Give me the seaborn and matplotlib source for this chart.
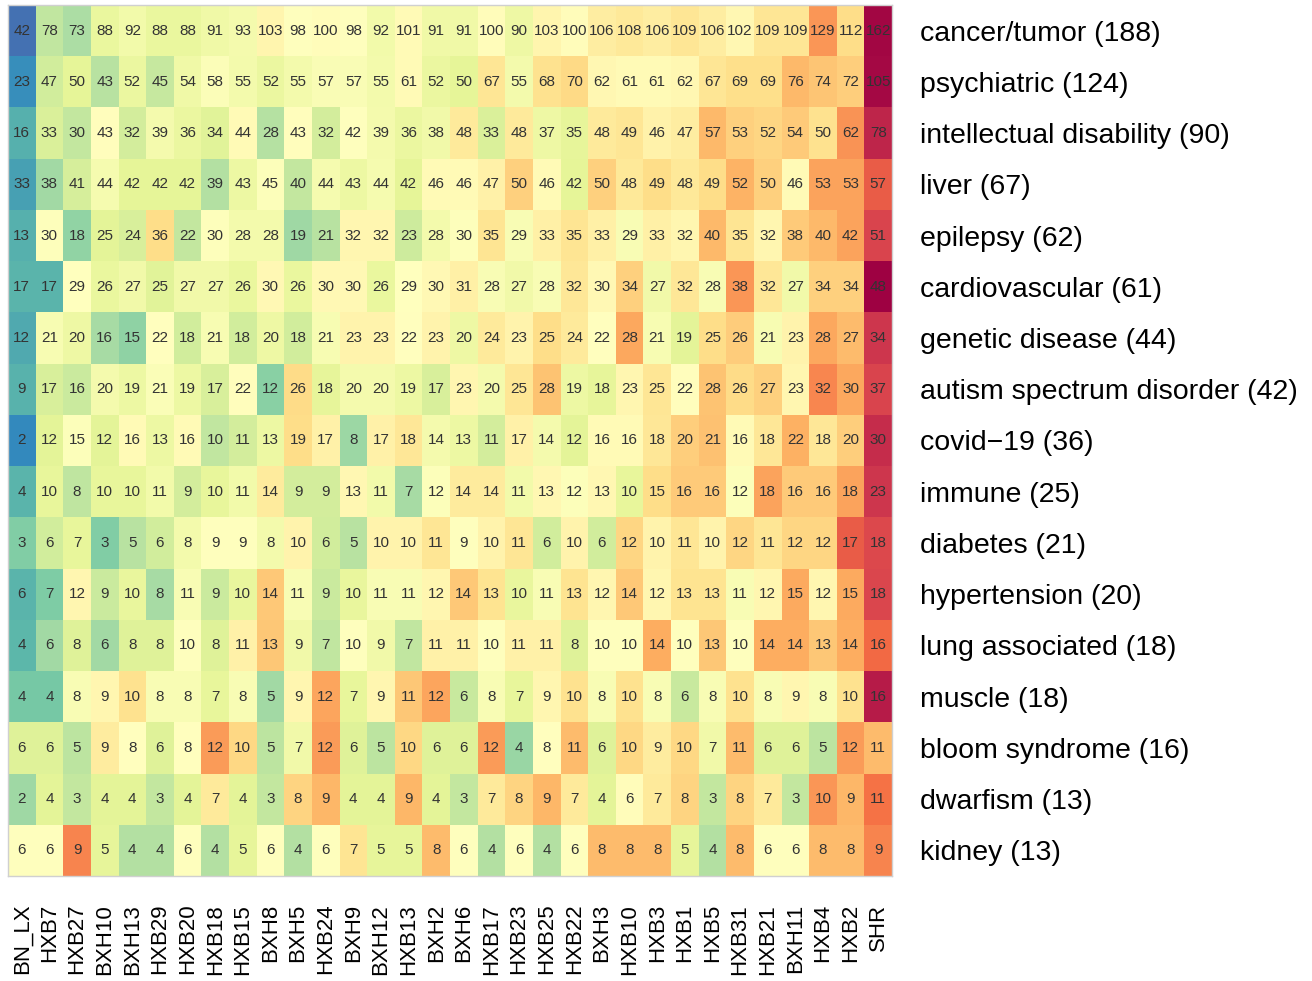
import numpy as np
import pandas as pd
import matplotlib
matplotlib.use("Agg")
import matplotlib.pyplot as plt
import seaborn as sns

# strains (columns) and disease categories (rows)
strains = ["BN_LX", "HXB7", "HXB27", "BXH10", "BXH13", "HXB29", "HXB20", "HXB18",
           "HXB15", "BXH8", "BXH5", "HXB24", "BXH9", "BXH12", "HXB13", "BXH2",
           "BXH6", "HXB17", "HXB23", "HXB25", "HXB22", "BXH3", "HXB10", "HXB3",
           "HXB1", "HXB5", "HXB31", "HXB21", "BXH11", "HXB4", "HXB2", "SHR"]

categories = ["cancer/tumor (188)", "psychiatric (124)", "intellectual disability (90)",
              "liver (67)", "epilepsy (62)", "cardiovascular (61)", "genetic disease (44)",
              "autism spectrum disorder (42)", "covid\u221219 (36)", "immune (25)",
              "diabetes (21)", "hypertension (20)", "lung associated (18)", "muscle (18)",
              "bloom syndrome (16)", "dwarfism (13)", "kidney (13)"]

cancer = [42, 78, 73, 88, 92, 88, 88, 91, 93, 103, 98, 100, 98, 92, 101, 91,
          91, 100, 90, 103, 100, 106, 108, 106, 109, 106, 102, 109, 109, 129, 112, 162]
psychiatric = [23, 47, 50, 43, 52, 45, 54, 58, 55, 52, 55, 57, 57, 55, 61, 52,
               50, 67, 55, 68, 70, 62, 61, 61, 62, 67, 69, 69, 76, 74, 72, 105]
intellectual = [16, 33, 30, 43, 32, 39, 36, 34, 44, 28, 43, 32, 42, 39, 36, 38,
                48, 33, 48, 37, 35, 48, 49, 46, 47, 57, 53, 52, 54, 50, 62, 78]
liver = [33, 38, 41, 44, 42, 42, 42, 39, 43, 45, 40, 44, 43, 44, 42, 46,
         46, 47, 50, 46, 42, 50, 48, 49, 48, 49, 52, 50, 46, 53, 53, 57]
epilepsy = [13, 30, 18, 25, 24, 36, 22, 30, 28, 28, 19, 21, 32, 32, 23, 28,
            30, 35, 29, 33, 35, 33, 29, 33, 32, 40, 35, 32, 38, 40, 42, 51]
cardiovascular = [17, 17, 29, 26, 27, 25, 27, 27, 26, 30, 26, 30, 30, 26, 29, 30,
                  31, 28, 27, 28, 32, 30, 34, 27, 32, 28, 38, 32, 27, 34, 34, 48]
genetic = [12, 21, 20, 16, 15, 22, 18, 21, 18, 20, 18, 21, 23, 23, 22, 23,
           20, 24, 23, 25, 24, 22, 28, 21, 19, 25, 26, 21, 23, 28, 27, 34]
autism = [9, 17, 16, 20, 19, 21, 19, 17, 22, 12, 26, 18, 20, 20, 19, 17,
          23, 20, 25, 28, 19, 18, 23, 25, 22, 28, 26, 27, 23, 32, 30, 37]
covid = [2, 12, 15, 12, 16, 13, 16, 10, 11, 13, 19, 17, 8, 17, 18, 14,
         13, 11, 17, 14, 12, 16, 16, 18, 20, 21, 16, 18, 22, 18, 20, 30]
immune = [4, 10, 8, 10, 10, 11, 9, 10, 11, 14, 9, 9, 13, 11, 7, 12,
          14, 14, 11, 13, 12, 13, 10, 15, 16, 16, 12, 18, 16, 16, 18, 23]
diabetes = [3, 6, 7, 3, 5, 6, 8, 9, 9, 8, 10, 6, 5, 10, 10, 11,
            9, 10, 11, 6, 10, 6, 12, 10, 11, 10, 12, 11, 12, 12, 17, 18]
hypertension = [6, 7, 12, 9, 10, 8, 11, 9, 10, 14, 11, 9, 10, 11, 11, 12,
                14, 13, 10, 11, 13, 12, 14, 12, 13, 13, 11, 12, 15, 12, 15, 18]
lung = [4, 6, 8, 6, 8, 8, 10, 8, 11, 13, 9, 7, 10, 9, 7, 11,
        11, 10, 11, 11, 8, 10, 10, 14, 10, 13, 10, 14, 14, 13, 14, 16]
muscle = [4, 4, 8, 9, 10, 8, 8, 7, 8, 5, 9, 12, 7, 9, 11, 12,
          6, 8, 7, 9, 10, 8, 10, 8, 6, 8, 10, 8, 9, 8, 10, 16]
bloom = [6, 6, 5, 9, 8, 6, 8, 12, 10, 5, 7, 12, 6, 5, 10, 6,
         6, 12, 4, 8, 11, 6, 10, 9, 10, 7, 11, 6, 6, 5, 12, 11]
dwarfism = [2, 4, 3, 4, 4, 3, 4, 7, 4, 3, 8, 9, 4, 4, 9, 4,
            3, 7, 8, 9, 7, 4, 6, 7, 8, 3, 8, 7, 3, 10, 9, 11]
kidney = [6, 6, 9, 5, 4, 4, 6, 4, 5, 6, 4, 6, 7, 5, 5, 8,
          6, 4, 6, 4, 6, 8, 8, 8, 5, 4, 8, 6, 6, 8, 8, 9]

counts = pd.DataFrame(
    [cancer, psychiatric, intellectual, liver, epilepsy, cardiovascular, genetic,
     autism, covid, immune, diabetes, hypertension, lung, muscle, bloom, dwarfism, kidney],
    index=categories, columns=strains)

# colour by row z-score (like pheatmap scale="row")
z = counts.sub(counts.mean(axis=1), axis=0).div(counts.std(axis=1), axis=0)
lim = np.abs(z.values).max()

fig = plt.figure(figsize=(13.12, 9.81), dpi=100)
ax = fig.add_axes([8 / 1312, 1 - 876 / 981, 884 / 1312, 871 / 981])

sns.heatmap(z, annot=counts, fmt="d", cmap="Spectral_r", vmin=-lim, vmax=lim,
            cbar=False, ax=ax,
            annot_kws={"fontsize": 11, "color": "#333333", "family": "Liberation Sans"})

ax.yaxis.tick_right()
ax.set_yticklabels(categories, rotation=0, fontsize=20.5, family="Liberation Sans")
ax.set_xticklabels(strains, rotation=90, fontsize=16, family="Liberation Sans")
ax.tick_params(axis="y", length=0, pad=20)
ax.tick_params(axis="x", length=0, pad=20)
ax.set_xlabel("")
ax.set_ylabel("")
for s in ax.spines.values():
    s.set_visible(True)
    s.set_color("#d0d0d0")
    s.set_linewidth(1)

fig.savefig("out.png", dpi=100)
